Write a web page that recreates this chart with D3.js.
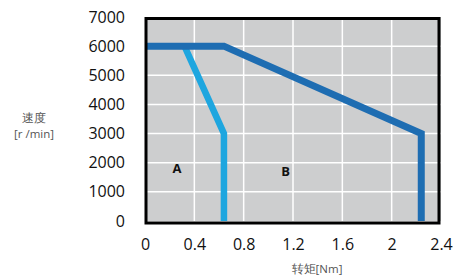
<!DOCTYPE html>
<html>
<head>
<meta charset="utf-8">
<script src="https://cdn.jsdelivr.net/npm/d3@7"></script>
<style>
  body { margin: 0; background: #fff; }
  text { font-family: "Open Sans", "Liberation Sans", sans-serif; }
</style>
</head>
<body>
<div id="chart"></div>
<script>
// curve A (light blue) and curve B (dark blue): torque [Nm] vs speed [r/min]
const curveA = [[0.32, 6000], [0.64, 3000], [0.64, 0]]
const curveB = [[0, 6000], [0.64, 6000], [2.24, 3000], [2.24, 0]]
const xTicks = [0, 0.4, 0.8, 1.2, 1.6, 2, 2.4]
const yTicks = [0, 1000, 2000, 3000, 4000, 5000, 6000, 7000]
const regionLabels = [["A", 0.26, 1800], ["B", 1.14, 1700]]

const width = 458, height = 277

const svg = d3.select("#chart")
  .append("svg")
  .attr("width", width)
  .attr("height", height)

const x = d3.scaleLinear().domain([0, 2.4]).range([145, 441])
const y = d3.scaleLinear().domain([0, 7000]).range([221, 17])

// plot background
svg.append("rect")
  .attr("x", x(0)).attr("y", y(7000))
  .attr("width", x(2.4) - x(0)).attr("height", y(0) - y(7000))
  .attr("fill", "#cdcecf")

// white grid
svg.append("g")
  .selectAll("line")
  .data(xTicks.slice(1, -1))
  .join("line")
  .attr("x1", d => x(d)).attr("x2", d => x(d))
  .attr("y1", y(7000)).attr("y2", y(0))
  .attr("stroke", "#fff").attr("stroke-width", 1.5)

svg.append("g")
  .selectAll("line")
  .data(yTicks.slice(1, -1))
  .join("line")
  .attr("x1", x(0)).attr("x2", x(2.4))
  .attr("y1", d => y(d)).attr("y2", d => y(d))
  .attr("stroke", "#fff").attr("stroke-width", 1.5)

// axes (labels only)
const xAxis = svg.append("g")
  .attr("transform", `translate(0, ${y(0)})`)
  .call(d3.axisBottom(x).tickValues(xTicks).tickSize(0).tickPadding(18).tickFormat(d3.format("")))
xAxis.select(".domain").remove()
xAxis.selectAll("text")
  .style("font-size", "16px")
  .style("font-family", "'Open Sans', sans-serif")
  .attr("fill", "#111")

const yAxis = svg.append("g")
  .attr("transform", `translate(${x(0)}, 0)`)
  .call(d3.axisLeft(y).tickValues(yTicks).tickSize(0).tickPadding(20).tickFormat(d3.format("d")))
yAxis.select(".domain").remove()
yAxis.selectAll("text")
  .style("font-size", "16px")
  .style("font-family", "'Open Sans', sans-serif")
  .attr("fill", "#111")

// curves
const line = d3.line().x(d => x(d[0])).y(d => y(d[1]))

svg.append("path")
  .datum(curveA)
  .attr("d", line)
  .attr("fill", "none")
  .attr("stroke", "#1ea6df")
  .attr("stroke-width", 6.5)
  .attr("stroke-linejoin", "miter")

svg.append("path")
  .datum(curveB)
  .attr("d", line)
  .attr("fill", "none")
  .attr("stroke", "#1e6db2")
  .attr("stroke-width", 7)
  .attr("stroke-linejoin", "miter")

// region labels
svg.selectAll(".region")
  .data(regionLabels)
  .join("text")
  .attr("class", "region")
  .attr("x", d => x(d[1]))
  .attr("y", d => y(d[2]))
  .attr("text-anchor", "middle")
  .attr("dy", "0.35em")
  .style("font-size", "13px")
  .style("font-weight", "bold")
  .attr("fill", "#111")
  .text(d => d[0])

// frame
svg.append("rect")
  .attr("x", x(0) + 1).attr("y", y(7000) + 1.5)
  .attr("width", x(2.4) - x(0) - 3).attr("height", y(0) - y(7000) + 0.5)
  .attr("fill", "none")
  .attr("stroke", "#000")
  .attr("stroke-width", 3)

// axis titles
svg.append("text")
  .attr("x", 34).attr("y", 122)
  .attr("text-anchor", "middle")
  .style("font-size", "12px")
  .attr("fill", "#555")
  .text("速度")

svg.append("text")
  .attr("x", 34).attr("y", 138)
  .attr("text-anchor", "middle")
  .style("font-size", "11.5px")
  .attr("fill", "#555")
  .text("[r /min]")

svg.append("text")
  .attr("x", 317).attr("y", 273)
  .attr("text-anchor", "middle")
  .style("font-size", "11.5px")
  .attr("fill", "#555")
  .text("转矩[Nm]")
</script>
</body>
</html>
